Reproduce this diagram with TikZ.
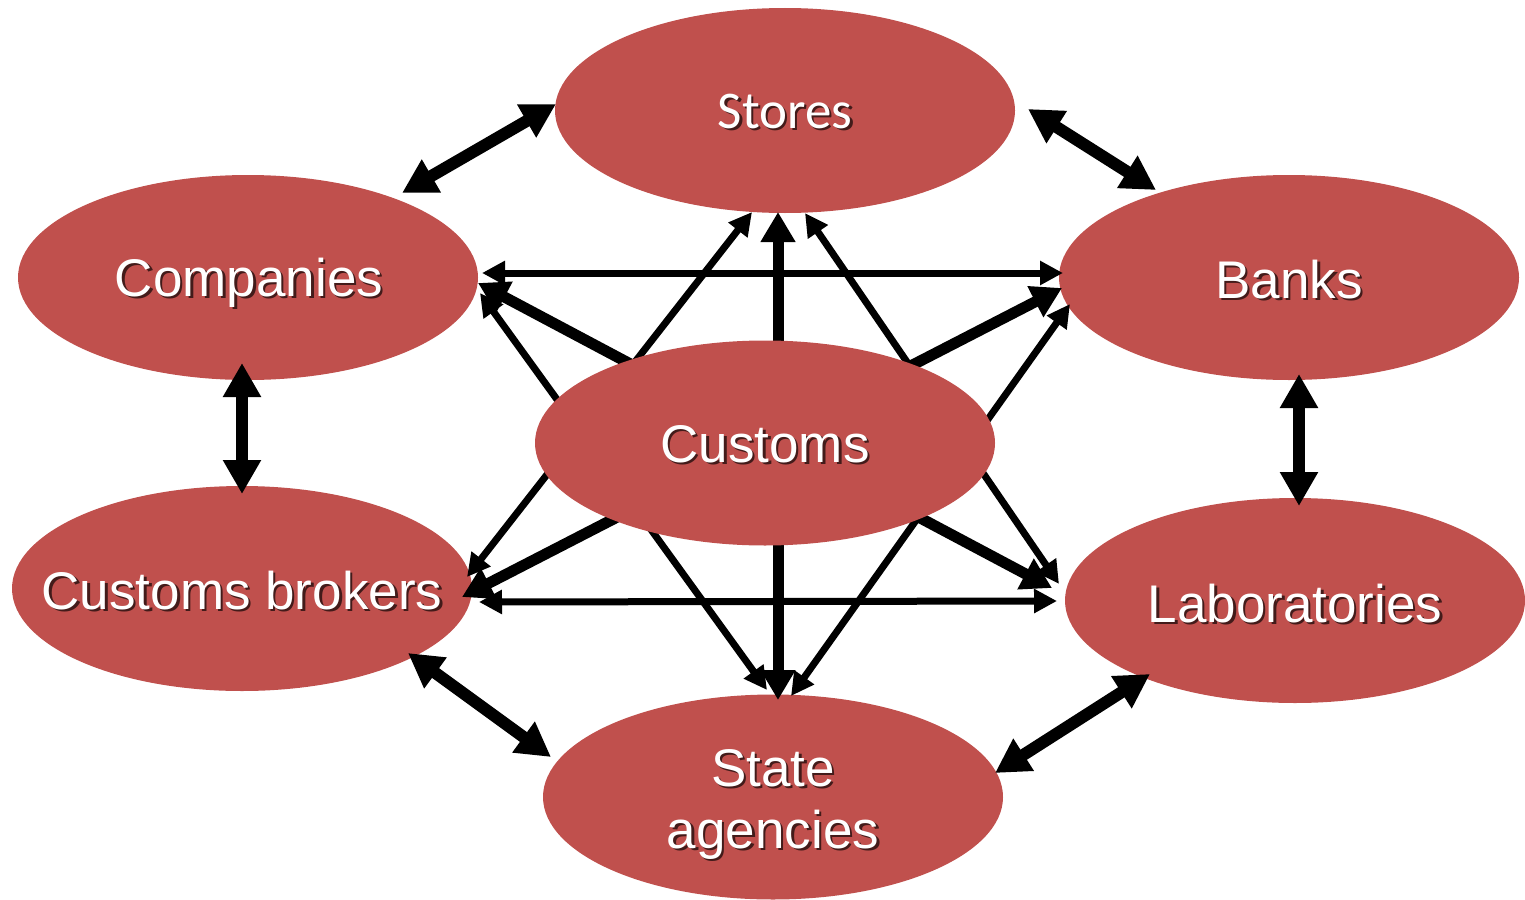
\documentclass[tikz,border=0pt]{standalone}
\usepackage{fontspec}
\setmainfont{Liberation Sans}
\newfontfamily\calib{Carlito}
\usetikzlibrary{arrows.meta,shapes.geometric}
\definecolor{ovalred}{HTML}{C0504D}
\tikzset{
  oval/.style={ellipse, fill=ovalred, minimum width=460pt, minimum height=205pt, inner sep=0pt},
  lbl/.style={text=white, font=\fontsize{53}{62}\selectfont, anchor=base, align=center, inner sep=0pt},
  lblsh/.style={lbl, text=black, text opacity=0.65},
  thinarr/.style={line width=7pt, {Triangle[length=23pt,width=23pt]}-{Triangle[length=23pt,width=23pt]}},
  thickarr/.style={line width=11pt, {Triangle[length=30pt,width=33pt]}-{Triangle[length=30pt,width=33pt]}},
  ringarr/.style={line width=12pt, {Triangle[length=34pt,width=36pt]}-{Triangle[length=34pt,width=36pt]}}
}
\begin{document}
\begin{tikzpicture}[x=1pt,y=-1pt]
\useasboundingbox (0,0) rectangle (1525,899);
% outer ovals
\node[oval] (stores) at (785,110.5) {};
\node[oval] (companies) at (248,277.5) {};
\node[oval] (banks) at (1289,277.5) {};
\node[oval] (brokers) at (242,588.5) {};
\node[oval] (labs) at (1295,600.5) {};
\node[oval] (state) at (773,797) {};
% connector end points
\coordinate (co-h) at (482,273);
\coordinate (ba-h) at (1063,273);
\coordinate (br-h) at (479,602);
\coordinate (la-h) at (1057,601);
\coordinate (br-t) at (467,577);
\coordinate (st-tl) at (752,212);
\coordinate (co-t) at (480,293);
\coordinate (sa-tl) at (767,690);
\coordinate (st-tr) at (805,213);
\coordinate (la-t) at (1059,584);
\coordinate (ba-t) at (1070,304);
\coordinate (sa-tr) at (791,696);
\coordinate (st-k) at (778,212);
\coordinate (sa-k) at (778,700);
\coordinate (co-k) at (478,283);
\coordinate (la-k) at (1052,588);
\coordinate (ba-k) at (1062,288);
\coordinate (br-k) at (462,597);
\coordinate (co-r1) at (402,193);
\coordinate (st-r1) at (556,104);
\coordinate (st-r2) at (1028,109);
\coordinate (ba-r1) at (1156,190);
\coordinate (co-r2) at (242,363);
\coordinate (br-r1) at (242,494);
\coordinate (ba-r2) at (1299,374);
\coordinate (la-r1) at (1299,506);
\coordinate (br-r2) at (408,653);
\coordinate (sa-r1) at (551,757);
\coordinate (la-r2) at (1150,674);
\coordinate (sa-r2) at (995,773);
% thin connectors
\draw[thinarr] (co-h) -- (ba-h);
\draw[thinarr] (br-h) -- (la-h);
\draw[thinarr] (br-t) -- (st-tl);
\draw[thinarr] (co-t) -- (sa-tl);
\draw[thinarr] (st-tr) -- (la-t);
\draw[thinarr] (ba-t) -- (sa-tr);
% thick connectors through customs
\draw[thickarr] (st-k) -- (sa-k);
\draw[thickarr] (co-k) -- (la-k);
\draw[thickarr] (ba-k) -- (br-k);
% ring connectors
\draw[ringarr] (co-r1) -- (st-r1);
\draw[ringarr] (st-r2) -- (ba-r1);
\draw[ringarr] (co-r2) -- (br-r1);
\draw[ringarr] (ba-r2) -- (la-r1);
\draw[ringarr] (br-r2) -- (sa-r1);
\draw[ringarr] (la-r2) -- (sa-r2);
% central oval
\node[oval] (customs) at (765,443) {};
% labels
\node[lblsh, font=\calib\fontsize{53}{62}\selectfont] (stores-s) at (787.5,130.5) {Stores};
\node[lbl, font=\calib\fontsize{53}{62}\selectfont] (stores-t) at (785,128) {Stores};
\node[lblsh] (companies-s) at (251.5,298.5) {Companies};
\node[lbl] (companies-t) at (249,296) {Companies};
\node[lblsh] (banks-s) at (1291.5,300.5) {Banks};
\node[lbl] (banks-t) at (1289,298) {Banks};
\node[lblsh] (customs-s) at (767.5,464.5) {Customs};
\node[lbl] (customs-t) at (765,462) {Customs};
\node[lblsh] (brokers-s) at (244.5,611.5) {Customs brokers};
\node[lbl] (brokers-t) at (242,609) {Customs brokers};
\node[lblsh] (labs-s) at (1297.5,624.5) {Laboratories};
\node[lbl] (labs-t) at (1295,622) {Laboratories};
\node[lblsh, anchor=center] (state-s) at (775.5,806.5) {State\\agencies};
\node[lbl, anchor=center] (state-t) at (773,804) {State\\agencies};
\end{tikzpicture}
\end{document}
